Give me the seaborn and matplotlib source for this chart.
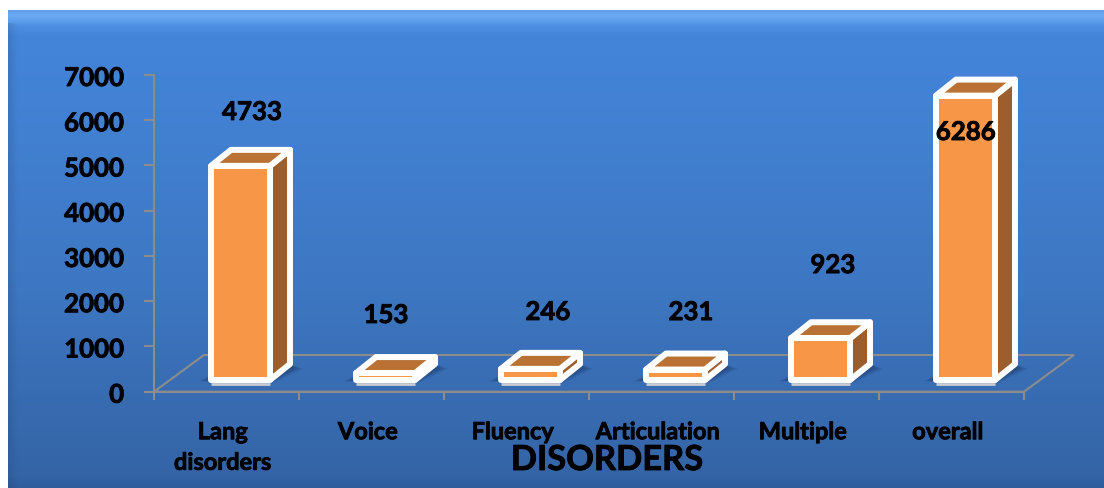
import numpy as np
import matplotlib
matplotlib.use("Agg")
import matplotlib.pyplot as plt
import matplotlib.patheffects as pe
from matplotlib.patches import Polygon, Rectangle
from matplotlib.transforms import Affine2D
from matplotlib.colors import LinearSegmentedColormap
import seaborn as sns

# ---- data
categories = ["Lang\ndisorders", "Voice", "Fluency", "Articulation", "Multiple", "overall"]
values = [4733, 153, 246, 231, 923, 6286]
y_ticks = [0, 1000, 2000, 3000, 4000, 5000, 6000, 7000]
x_title = "DISORDERS"
# label offsets from bar value (pixels)
label_dx = [25.5, 14.5, 31.5, 29.5, 26.5, 14.5]
label_dy = [66.6, 70.8, 69.6, 70.2, 85.9, -23.7]

# ---- style
W, H = 1104, 489
FRONT, TOP, SIDE = "#F79646", "#B97234", "#9B5E2C"
GREY = "#8C8C8C"
FONT = ["Lato", "DejaVu Sans"]
sns.set_theme(style="white")
plt.rcParams["font.family"] = FONT
plt.rcParams["font.weight"] = "bold"
BOLD = [pe.withStroke(linewidth=0.6, foreground="black")]

fig = plt.figure(figsize=(W / 100, H / 100), dpi=100, facecolor="white")

# background panel
bg = fig.add_axes([8 / W, 0, 1 - 8 / W, 1 - 11 / H], zorder=0)
bg.set_axis_off()
cmap = LinearSegmentedColormap.from_list(
    "panel",
    [(0, "#5F9FEC"), (0.008, "#6CABF3"), (0.03, "#4F8FE2"), (0.05, "#4485DA"),
     (0.55, "#3E78C4"), (0.98, "#3464A6"), (1, "#2F5C9B")])
bg.imshow(np.linspace(0, 1, 478)[:, None], aspect="auto", cmap=cmap, vmin=0, vmax=1,
          extent=(0, 1, 0, 1))
strip = np.linspace(0.16, 0, 10)[None, :]
bg.imshow(np.dstack([np.full((1, 10), 0.1), np.full((1, 10), 0.2), np.full((1, 10), 0.35), strip]),
          aspect="auto", extent=(0, 10 / (W - 8), 0, 1 - 13 / 478), zorder=2)
bg.set_xlim(0, 1)
bg.set_ylim(0, 1)

# plotting axes
x0, x1, ybase, ytop = 154, 1024, 392.7, 76
ax = fig.add_axes([x0 / W, 1 - ybase / H, (x1 - x0) / W, (ybase - ytop) / H], zorder=1)
ax.patch.set_alpha(0)
sns.barplot(x=categories, y=values, ax=ax, color=FRONT, saturation=1, width=0.407,
            edgecolor="white", linewidth=4.3, zorder=5, clip_on=False)
ax.set_xlim(-0.5, 5.5)
ax.set_ylim(0, 7000)

slot = (x1 - x0) / 6
pxy = (ybase - ytop) / 7000
fdx, fdy = 50 / slot, 36.7 / pxy       # floor depth
bdx, bdy = 20 / slot, 16 / pxy         # bar depth
ox, oy = 14 / slot, 11.7 / pxy         # bar placement on the floor

# floor
xl, xr = ax.get_xlim()
ax.add_patch(Polygon([(xl, 0), (xl + fdx, fdy), (xr + fdx, fdy), (xr, 0)], closed=True,
                     fill=False, edgecolor=GREY, lw=1.5, zorder=1, clip_on=False))

shift = Affine2D().translate(14, 11.7)
for bar in list(ax.patches):
    if not isinstance(bar, Rectangle) or bar.get_height() <= 0:
        continue
    a, b = bar.get_x() + ox, bar.get_x() + bar.get_width() + ox
    h = bar.get_height() + oy
    y = oy
    # soft shadow on the floor
    for k in range(6):
        g = 2 + k * 2.2
        gx, gy = g / slot, g * 0.35 / pxy
        ax.add_patch(Polygon([(a - gx, y - gy * 0.3), (b, y - gy), (b + bdx + gx, y + bdy * 0.75 - gy * .2),
                              (b + bdx + gx * .4, y + bdy * 0.9), (a, y + bdy * 0.3)],
                             closed=True, fc="#14294F", ec="none", alpha=0.10, zorder=2, clip_on=False))
    # light rim below the bar
    ax.plot([a, b], [y - 3.5 / pxy] * 2, color="#C9CDD3", lw=2, zorder=3, solid_capstyle="butt", clip_on=False)
    # side and top faces
    ax.add_patch(Polygon([(b, y), (b + bdx, y + bdy), (b + bdx, h + bdy), (b, h)], closed=True,
                         fc=SIDE, ec="white", lw=4.3, joinstyle="round", zorder=4, clip_on=False))
    ax.add_patch(Polygon([(a, h), (a + bdx, h + bdy), (b + bdx, h + bdy), (b, h)], closed=True,
                         fc=TOP, ec="white", lw=4.3, joinstyle="round", zorder=4, clip_on=False))
    bar.set_transform(ax.transData + shift)
    bar.set_joinstyle("round")

# value labels
for i, v in enumerate(values):
    ax.annotate(str(v), xy=(i, v), xytext=(label_dx[i], label_dy[i] - 1), textcoords="offset pixels",
                ha="center", va="center", fontsize=18.6, fontweight="bold", color="black",
                family=FONT, zorder=10, annotation_clip=False, path_effects=BOLD)

# axes
sns.despine(ax=ax)
for s in ("left", "bottom"):
    ax.spines[s].set_color(GREY)
    ax.spines[s].set_linewidth(1.5)
ax.set_yticks(y_ticks)
ax.set_xticks(np.arange(-0.5, 6, 1), minor=True)
ax.tick_params(axis="x", which="major", bottom=False, pad=14.5, labelsize=17, labelcolor="black")
ax.tick_params(axis="x", which="minor", bottom=True, length=6, width=1.5, color=GREY)
ax.tick_params(axis="y", length=7, width=1.5, color=GREY, pad=14.5, labelsize=18.6, labelcolor="black", left=True)
nudge = Affine2D().translate(-3.7, 0)
for lab in ax.get_xticklabels():
    lab.set_transform(lab.get_transform() + nudge)
    lab.set_fontweight("bold")
    lab.set_linespacing(1.4)
    lab.set_path_effects(BOLD)
ynudge = Affine2D().translate(0, -1)
for lab in ax.get_yticklabels():
    lab.set_transform(lab.get_transform() + ynudge)
    lab.set_fontweight("bold")
    lab.set_path_effects(BOLD)

ax.set_xlabel(x_title, fontsize=24.8, fontweight="bold", color="black", va="center", path_effects=BOLD)
ax.xaxis.set_label_coords((607 - x0) / (x1 - x0), (ybase - 461) / (ybase - ytop))
ax.set_ylabel("")

fig.savefig("out.png", dpi=100)
